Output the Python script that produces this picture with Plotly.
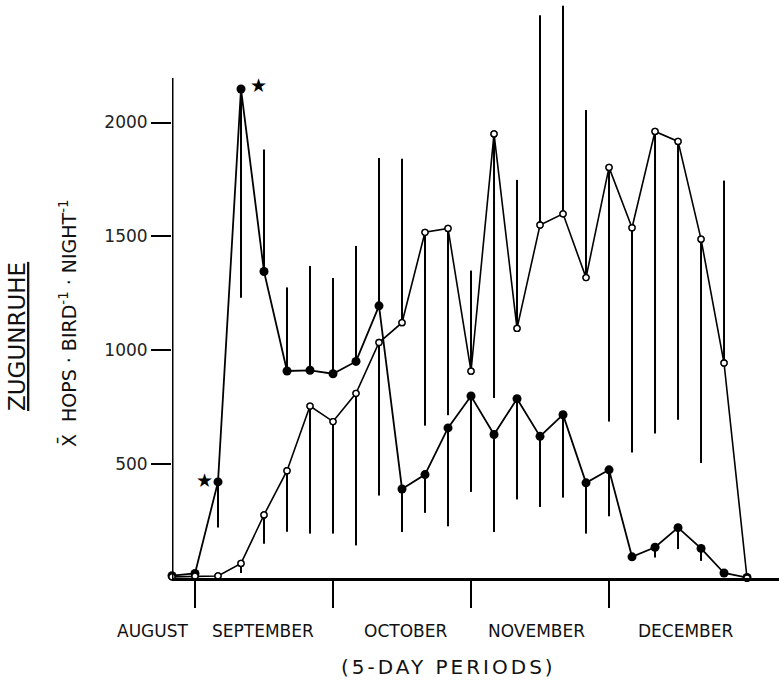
import plotly.graph_objects as go

# ---- data (index = 5-day period, 0 = start of record) ----
periods = list(range(26))

# filled circles series
filled_vals = [10, 20, 422, 2147, 1346, 909, 912, 897, 951, 1195,
               391, 454, 659, 799, 630, 787, 622, 717, 418, 475,
               93, 135, 221, 130, 22, 2]
filled_err_up = [0, 0, 0, 0, 535, 367, 458, 420, 507, 649,
                 0, 0, 0, 0, 0, 0, 0, 0, 0, 0,
                 0, 0, 0, 0, 0, 0]
filled_err_down = [0, 0, 200, 916, 0, 0, 0, 0, 0, 0,
                   189, 168, 432, 421, 428, 442, 310, 364, 223, 204,
                   0, 45, 94, 55, 0, 0]

# open circles series
open_vals = [5, 8, 9, 64, 277, 471, 755, 687, 811, 1034,
             1121, 1518, 1535, 908, 1950, 1096, 1550, 1599, 1319, 1803,
             1538, 1961, 1917, 1488, 944, 0]
open_err_up = [0, 0, 0, 0, 0, 0, 0, 0, 0, 0,
               720, 0, 0, 442, 0, 652, 921, 914, 736, 0,
               0, 0, 0, 0, 801, 0]
open_err_down = [0, 0, 0, 42, 127, 268, 560, 492, 668, 672,
                 0, 849, 820, 0, 1160, 0, 0, 0, 0, 1116,
                 987, 1327, 1222, 983, 0, 0]

month_names = ["AUGUST", "SEPTEMBER", "OCTOBER", "NOVEMBER", "DECEMBER"]
month_label_pos = [-0.83, 3.96, 10.17, 15.85, 22.33]
month_ticks = [1, 7, 13, 19]
y_ticks = [500, 1000, 1500, 2000]
star_points = [2, 3]  # significant periods in the filled series

FONT = "DejaVu Sans"
X_MAX = 26.39

fig = go.Figure()

fig.add_trace(go.Scatter(
    x=periods, y=open_vals, mode="lines+markers",
    line=dict(color="black", width=1.6),
    marker=dict(symbol="circle-open", size=6, color="black", line=dict(width=1.3)),
    error_y=dict(type="data", symmetric=False, array=open_err_up,
                 arrayminus=open_err_down, thickness=2, width=0, color="black"),
    cliponaxis=False, showlegend=False))

fig.add_trace(go.Scatter(
    x=periods, y=filled_vals, mode="lines+markers",
    line=dict(color="black", width=1.8),
    marker=dict(symbol="circle", size=9, color="black"),
    error_y=dict(type="data", symmetric=False, array=filled_err_up,
                 arrayminus=filled_err_down, thickness=2, width=0, color="black"),
    cliponaxis=False, showlegend=False))

# open circle markers drawn white-filled on top
fig.add_trace(go.Scatter(
    x=periods, y=open_vals, mode="markers",
    marker=dict(symbol="circle", size=6, color="white", line=dict(width=1.3, color="black")),
    cliponaxis=False, showlegend=False, hoverinfo="skip"))

annotations = []
for name, pos in zip(month_names, month_label_pos):
    annotations.append(dict(x=pos / X_MAX, xref="paper", y=0, yref="paper", yshift=-53,
                            text=name, showarrow=False, xanchor="center", yanchor="middle",
                            font=dict(family=FONT, size=17, color="#111")))
annotations.append(dict(x=12.0 / X_MAX, xref="paper", y=0, yref="paper",
                        yshift=-89, text='<span style="letter-spacing:3px">(5-DAY PERIODS)</span>',
                        showarrow=False, xanchor="center", yanchor="middle",
                        font=dict(family=FONT, size=20, color="#111")))
annotations.append(dict(x=0, xref="paper", xshift=-155, y=0.417, yref="paper",
                        text="<u>ZUGUNRUHE</u>", textangle=-90, showarrow=False,
                        xanchor="center", yanchor="middle",
                        font=dict(family=FONT, size=23, color="#111")))
annotations.append(dict(x=0, xref="paper", xshift=-104, y=0.441, yref="paper",
                        text="X\u0304  HOPS \u00b7 BIRD<sup>-1</sup> \u00b7 NIGHT<sup>-1</sup>",
                        textangle=-90, showarrow=False,
                        xanchor="center", yanchor="middle",
                        font=dict(family=FONT, size=19, color="#111")))
for idx, xs, ys in zip(star_points, [-14, 17], [2, 4]):
    annotations.append(dict(x=periods[idx], y=filled_vals[idx], xref="x", yref="y",
                            xshift=xs, yshift=ys, text="\u2605", showarrow=False,
                            font=dict(family=FONT, size=19, color="black")))

fig.update_layout(
    width=779, height=682,
    margin=dict(l=172, r=0, t=0, b=104),
    paper_bgcolor="white", plot_bgcolor="white",
    font=dict(family=FONT, color="#111"),
    xaxis=dict(range=[0, X_MAX], showgrid=False, zeroline=False,
               showline=True, linewidth=3, linecolor="black",
               tickmode="array", tickvals=month_ticks, ticktext=[""] * len(month_ticks),
               ticks="outside", ticklen=27, tickwidth=2, tickcolor="black"),
    yaxis=dict(range=[0, 2538], showgrid=False, zeroline=False, showline=False,
               tickmode="array", tickvals=y_ticks, ticktext=[str(v) for v in y_ticks],
               ticks="outside", ticklen=20, tickwidth=2, tickcolor="black",
               tickfont=dict(family=FONT, size=17, color="#222")),
    annotations=annotations,
    shapes=[dict(type="line", xref="x", yref="y", x0=0, x1=0, y0=0, y1=2195,
                 line=dict(color="black", width=3))],
)

fig.write_html("out.html", config={"displayModeBar": False},
               post_script="document.body.style.margin='0';")
